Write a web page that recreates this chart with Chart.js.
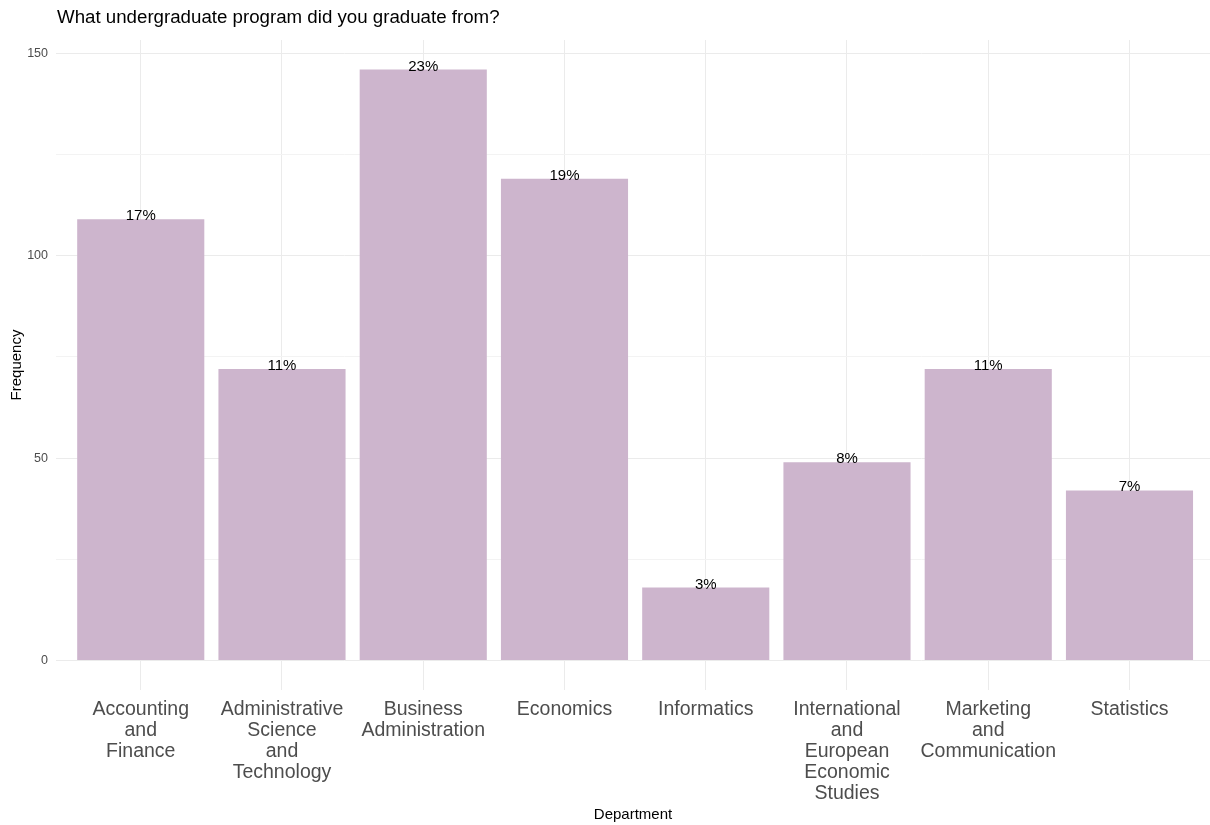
<!DOCTYPE html>
<html lang="en">

<head>
    <meta charset="UTF-8">
    <title>Undergraduate program</title>
    <script src="https://cdn.jsdelivr.net/npm/chart.js"></script>
    <style>
        body { margin: 0; background: #fff; }
    </style>
</head>

<body>
    <canvas id="grafico" width="1210" height="825"></canvas>
</body>
<script>
    // dados
    const departamentos = ['Accounting and Finance', 'Administrative Science and Technology', 'Business Administration',
        'Economics', 'Informatics', 'International and European Economic Studies', 'Marketing and Communication', 'Statistics'];
    const frequencias = [109, 72, 146, 119, 18, 49, 72, 42];
    const percentuais = ['17%', '11%', '23%', '19%', '3%', '8%', '11%', '7%'];
    const yTicks = [0, 50, 100, 150];

    const fonte = '"Liberation Sans", Arial, sans-serif';
    const titulo = 'What undergraduate program did you graduate from?';

    // titulo e rotulos de porcentagem em cima das barras
    const rotulos = {
        id: 'rotulos',
        afterDatasetsDraw(chart) {
            const ctx = chart.ctx;
            ctx.save();
            ctx.fillStyle = '#000';
            ctx.font = '15px ' + fonte;
            ctx.textAlign = 'center';
            ctx.textBaseline = 'alphabetic';
            chart.getDatasetMeta(0).data.forEach(function (barra, i) {
                ctx.fillText(percentuais[i], barra.x, barra.y + 1);
            });
            ctx.font = '18.7px ' + fonte;
            ctx.textAlign = 'left';
            ctx.textBaseline = 'middle';
            ctx.fillText(titulo, chart.chartArea.left + 1, 18);
            ctx.restore();
        }
    };

    const dados = {
        datasets: [{
            data: frequencias.map(function (v, i) { return { x: i, y: v }; }),
            backgroundColor: '#CDB5CD',
            borderWidth: 0,
            inflateAmount: 0,
            categoryPercentage: 1,
            barPercentage: 0.9
        }]
    };

    new Chart(document.getElementById('grafico'), {
        type: 'bar',
        data: dados,
        plugins: [rotulos],
        options: {
            responsive: false,
            animation: false,
            layout: { padding: { top: 40, right: 0, bottom: 0, left: 0 } },
            plugins: {
                legend: { display: false },
                tooltip: { enabled: false }
            },
            scales: {
                x: {
                    type: 'linear',
                    min: -0.6,
                    max: 7.57,
                    offset: false,
                    afterFit: function (scale) { scale.height = 135; },
                    grid: { color: '#ebebeb', drawTicks: false, offset: false },
                    border: { display: false },
                    ticks: {
                        stepSize: 1,
                        includeBounds: false,
                        autoSkip: false,
                        maxRotation: 0,
                        padding: 9,
                        color: '#4d4d4d',
                        font: { family: fonte, size: 19.5, lineHeight: 1.08 },
                        callback: function (v) {
                            return Number.isInteger(v) && departamentos[v] ? departamentos[v].split(' ') : '';
                        }
                    },
                    title: {
                        display: true,
                        text: 'Department',
                        color: '#000',
                        font: { family: fonte, size: 15 },
                        padding: { top: 0, bottom: 1 }
                    }
                },
                y: {
                    min: -7.3,
                    max: 153.3,
                    afterFit: function (scale) { scale.width = 56; },
                    grid: {
                        drawTicks: false,
                        color: function (c) { return c.tick && c.tick.value % 50 === 0 ? '#ebebeb' : '#f3f3f3'; }
                    },
                    border: { display: false },
                    ticks: {
                        stepSize: 25,
                        includeBounds: false,
                        padding: 8,
                        color: '#4d4d4d',
                        font: { family: fonte, size: 12.5 },
                        callback: function (v) { return yTicks.includes(v) ? v : ''; }
                    },
                    title: {
                        display: true,
                        text: 'Frequency',
                        color: '#000',
                        font: { family: fonte, size: 15 },
                        padding: { top: 8, bottom: 0 }
                    }
                }
            }
        }
    });
</script>

</html>
